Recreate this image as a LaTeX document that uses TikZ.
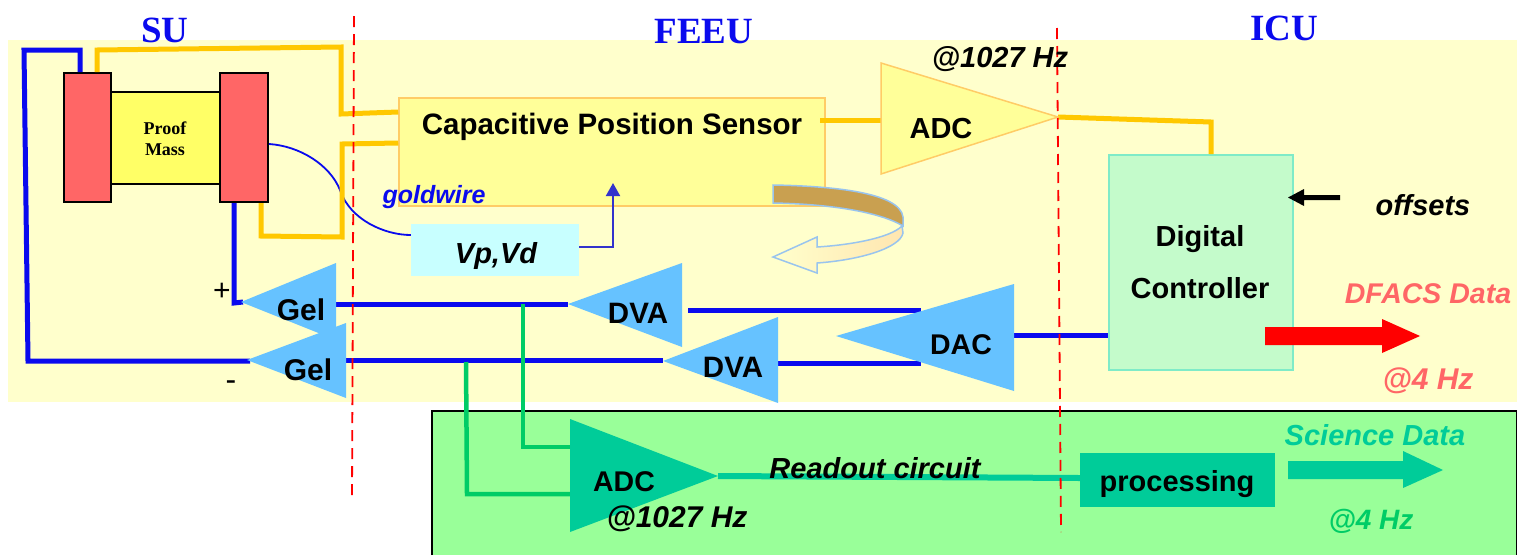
\documentclass[tikz,border=0pt]{standalone}
\usepackage{fontspec}
\setmainfont{Liberation Sans}
\newfontfamily\timesf{Liberation Serif}
\usetikzlibrary{arrows.meta}
\definecolor{paleY}{HTML}{FFFFCC}
\definecolor{mintG}{HTML}{99FF99}
\definecolor{wireY}{HTML}{FFC800}
\definecolor{wireB}{HTML}{0A0AEE}
\definecolor{wireG}{HTML}{00CC66}
\definecolor{thinB}{HTML}{3333CC}
\definecolor{teal}{HTML}{00CC99}
\definecolor{ampB}{HTML}{66C2FF}
\definecolor{massR}{HTML}{FF6666}
\definecolor{boxO}{HTML}{FFCC66}
\definecolor{sensY}{HTML}{FFFF99}
\definecolor{vpC}{HTML}{C8FFFF}
\definecolor{dcG}{HTML}{C4FBCB}
\definecolor{dcE}{HTML}{7FEBC8}
\definecolor{curlE}{HTML}{99C4EE}
\definecolor{curlT}{HTML}{C9A050}
\definecolor{curlL}{HTML}{FFE6B0}
\definecolor{massY}{HTML}{FFFF66}
\tikzset{
 x=1pt,y=-1pt,
 fs/.style={font=\fontsize{#1}{#1}\selectfont\bfseries},
 fsi/.style={font=\fontsize{#1}{#1}\selectfont\bfseries\itshape},
 ttl/.style={font=\fontsize{37}{37}\selectfont\timesf\bfseries,text=wireB,inner sep=0pt,anchor=base},
 txt/.style={inner sep=0pt,anchor=base},
 ybox/.style={draw=boxO,line width=1.5pt,fill=#1,inner sep=0pt},
 plate/.style={draw=black,line width=2pt,fill=massR,inner sep=0pt},
 yw/.style={draw=wireY,line width=5pt,line join=miter},
 bw/.style={draw=wireB,line width=5pt},
 gw/.style={draw=wireG,line width=4.5pt},
 thinw/.style={draw=wireB,line width=1.8pt},
 amp/.style={fill=ampB},
 sep/.style={draw=red,line width=1.8pt,dash pattern=on 11pt off 7pt},
}
\begin{document}
\begin{tikzpicture}
\useasboundingbox (0,0) rectangle (1517,555);
\fill[paleY] (8,40) rectangle (1517,402);
\draw[black,line width=2pt,fill=mintG] (432,555) -- (432,411) -- (1517,411) -- (1517,555);

% named ports
\coordinate (gelOneTip) at (243,302);
\coordinate (gelOneOut) at (336,304);
\coordinate (gelTwoTip) at (250,361);
\coordinate (gelTwoOut) at (346,360);
\coordinate (dvaOneTip) at (568,304);
\coordinate (dvaOneOut) at (688,310);
\coordinate (dvaTwoTip) at (663,360);
\coordinate (dvaTwoOut) at (778,363);
\coordinate (dacOutA) at (921,310);
\coordinate (dacOutB) at (921,363);
\coordinate (dacIn) at (1014,335);
\coordinate (adcTip) at (1058,117);
\coordinate (adcIn) at (881,120);
\coordinate (roTip) at (718,476);
\coordinate (roInA) at (570,447);
\coordinate (roInB) at (570,494);

% shapes
\node[plate,fill=massY,minimum width=109pt,minimum height=92pt] (mass) at (165.5,138) {};
\node[plate,minimum width=47pt,minimum height=129pt] (plateL) at (87.5,137.5) {};
\node[plate,minimum width=48pt,minimum height=129pt] (plateR) at (244,137.5) {};
\node[ybox=sensY,minimum width=426pt,minimum height=108pt] (cps) at (612,152) {};
\node[fill=vpC,inner sep=0pt,minimum width=168pt,minimum height=52pt] (vp) at (495,250) {};
\node[draw=dcE,line width=1.8pt,fill=dcG,inner sep=0pt,minimum width=184pt,minimum height=215pt] (dc) at (1201,262.5) {};
\node[fill=teal,inner sep=0pt,minimum width=195pt,minimum height=54pt] (proc) at (1177.5,480) {};

% wires
\draw[thinw] (plateR.east |- 0,144) .. controls (300,146) and (330,165) .. (340,190) .. controls (350,220) and (385,235) .. (vp.west |- 0,235);
\draw[bw,line join=miter] (plateL.north -| 80,73) -- (80,50) -- (24,50) -- (28,361) -- (gelTwoTip);
\draw[bw,line join=miter] (plateR.south -| 234,202) -- (234,303) -- (gelOneTip);
\draw[bw] (gelOneOut) -- (dvaOneTip);
\draw[bw] (gelTwoOut) -- (dvaTwoTip);
\draw[bw] (dvaOneOut) -- (dacOutA);
\draw[bw] (dvaTwoOut) -- (dacOutB);
\draw[bw] (dacIn) -- (dc.west |- dacIn);
\draw[yw] (plateL.north -| 97,73) -- (97,50) -- (341,47) -- (341,114) -- (cps.west |- 0,112);
\draw[yw] (cps.west |- 0,143) -- (342,144) -- (342,237) -- (261,236) -- (plateR.south -| 261,202);
\draw[yw] (820,120) -- (adcIn);
\draw[yw] (adcTip) -- (1211,122) -- (dc.north -| 1211,155);
\draw[draw=thinB,line width=2pt,-{Triangle[length=13pt,width=14pt]}] (vp.east |- 0,247) -- (613,247) -- (613,183);
\draw[gw,line join=miter] (523,304) -- (523,447) -- (roInA);
\draw[gw,line join=miter] (466,362) -- (467,494) -- (roInB);
\draw[draw=teal,line width=6pt] (roTip) -- (proc.west |- 0,478);

% amplifiers
\fill[amp] (336,263) -- (241,302) -- (336,340) -- cycle;
\fill[amp] (346,323) -- (247,360) -- (346,398) -- cycle;
\fill[amp] (682,263) -- (568,304) -- (682,347) -- cycle;
\fill[amp] (778,317) -- (663,361) -- (778,403) -- cycle;
\fill[amp] (1014,284) -- (836,336) -- (1014,391) -- cycle;
\filldraw[draw=boxO,line width=1.5pt,fill=sensY] (881,63) -- (adcTip) -- (881,174) -- cycle;
\fill[teal] (570,419) -- (roTip) -- (570,532) -- cycle;

% block arrows
\fill[red] (1265,327) -- (1382,327) -- (1382,319) -- (1420,336) -- (1382,353) -- (1382,345) -- (1265,345) -- cycle;
\fill[teal] (1288,461) -- (1403,461) -- (1403,451) -- (1443,470) -- (1403,488) -- (1403,479) -- (1288,479) -- cycle;
\fill[black] (1340,195) -- (1304,195) -- (1304,189) -- (1288,197.5) -- (1304,206) -- (1304,200) -- (1340,200) -- cycle;

% curled arrow
\draw[draw=curlE,line width=1.5pt,left color=paleY,right color=curlL]
 (902,226) .. controls (890,238) and (850,245) .. (817,247) -- (817,237) -- (773,257) -- (817,273) -- (817,263) .. controls (860,260) and (900,248) .. (903,233) -- cycle;
\filldraw[draw=curlE,line width=1.5pt,fill=curlT]
 (773,185) .. controls (830,186) and (900,192) .. (903,217) -- (903,226) .. controls (880,212) and (830,204) .. (773,203) -- cycle;

% separators
\draw[sep] (354,16) -- (352,498);
\draw[sep] (1057,28) -- (1061,532);

% labels
\node[ttl] (suL) at (165,42) {SU};
\node[ttl] (feeuL) at (704,43) {FEEU};
\node[ttl] (icuL) at (1284,40) {ICU};
\node[txt,fs=29.5] (cpsL) at (612,134) {Capacitive Position Sensor};
\node[txt,fsi=25,text=wireB] (goldL) at (434,203) {goldwire};
\node[txt,fsi=29] (vpL) at (496,263) {Vp,Vd};
\node[txt,fs=29] (adcL) at (941,138) {ADC};
\node[txt,fsi=29] (hzA) at (1000,67) {@1027 Hz};
\node[txt,fs=29] (dcA) at (1200,246) {Digital};
\node[txt,fs=29] (dcB) at (1200,298) {Controller};
\node[txt,fsi=29] (offL) at (1423,215) {offsets};
\node[txt,fsi=28.5,text=massR] (dfL) at (1428,303) {DFACS Data};
\node[txt,fsi=30,text=massR] (hzB) at (1428,389) {@4 Hz};
\node[txt,fs=30] (g1) at (301,320) {Gel};
\node[txt,fs=30] (g2) at (308,380) {Gel};
\node[txt,fs=29.5] (d1) at (638,323) {DVA};
\node[txt,fs=29.5] (d2) at (733,377) {DVA};
\node[txt,fs=28.5] (d3) at (961,354) {DAC};
\node[inner sep=0pt,font=\fontsize{30}{30}\selectfont] (pl) at (222,292) {+};
\node[inner sep=0pt,font=\fontsize{32}{32}\selectfont] (mi) at (231,386) {-};
\node[txt,font=\fontsize{18}{18}\selectfont\timesf\bfseries] (m1) at (165,134) {Proof};
\node[txt,font=\fontsize{18}{18}\selectfont\timesf\bfseries] (m2) at (165,155) {Mass};
\node[txt,fs=28.5] (adc2) at (624,491) {ADC};
\node[txt,fsi=30] (hzC) at (677,527) {@1027 Hz};
\node[txt,fsi=29] (roL) at (875,478) {Readout circuit};
\node[txt,fs=29] (prL) at (1177,491) {processing};
\node[txt,fsi=29,text=teal] (sdL) at (1375,445) {Science Data};
\node[txt,fsi=28,text=wireG] (hzD) at (1371,529) {@4 Hz};
\end{tikzpicture}
\end{document}
